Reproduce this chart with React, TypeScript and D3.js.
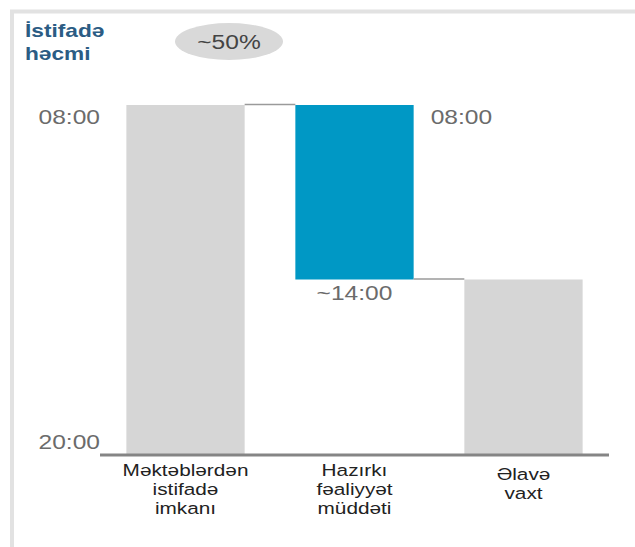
import React from "react";
import * as d3 from "d3";

const categories = ["Məktəblərdən istifadə imkanı", "Hazırkı fəaliyyət müddəti", "Əlavə vaxt"];
const categoryLines = [
  ["Məktəblərdən", "istifadə", "imkanı"],
  ["Hazırkı", "fəaliyyət", "müddəti"],
  ["Əlavə", "vaxt"],
];
const startHours = [8, 8, 14];
const endHours = [20, 14, 20];
const barColors = ["#d6d6d6", "#0098c5", "#d6d6d6"];
const tickValues = [8, 20];
const tickLabels = ["08:00", "20:00"];
const titleLines = ["İstifadə", "həcmi"];
const badgeText = "~50%";
const startLabel = "08:00";
const midLabel = "~14:00";

const W = 635;
const H = 547;
const SX = 1.26;

function SText(props: {
  x: number;
  y: number;
  anchor?: string;
  size: number;
  fill: string;
  weight?: string;
  children: React.ReactNode;
}) {
  return (
    <text
      transform={`translate(${props.x},${props.y}) scale(${SX},1)`}
      textAnchor={props.anchor || "start"}
      fontSize={props.size}
      fontWeight={props.weight || "normal"}
      fill={props.fill}
    >
      {props.children}
    </text>
  );
}

export default function App() {
  const x = d3
    .scaleBand<string>()
    .domain(categories)
    .range([100, 609])
    .paddingInner(0.3)
    .paddingOuter(0.156);
  const y = d3.scaleLinear().domain([8, 20]).range([105, 454]);
  const bw = x.bandwidth();
  const font = "'Liberation Sans', Arial, sans-serif";

  return (
    <svg
      width={W}
      height={H}
      style={{ position: "absolute", left: 0, top: 0, display: "block", background: "#fff" }}
      fontFamily={font}
    >
      {/* frame */}
      <rect x={12} y={11.5} width={700} height={600} fill="none" stroke="#e2e2e2" strokeWidth={4} />

      {/* title */}
      {titleLines.map((t, i) => (
        <SText key={t} x={25} y={37 + i * 23} size={18} weight="bold" fill="#2b5c84">
          {t}
        </SText>
      ))}

      {/* badge */}
      <ellipse cx={229} cy={41.5} rx={54} ry={18.5} fill="#d9d9d9" />
      <SText x={229} y={48.5} anchor="middle" size={19.5} fill="#444">
        {badgeText}
      </SText>

      {/* bars */}
      {categories.map((c, i) => (
        <rect
          key={c}
          x={x(c)}
          y={y(startHours[i])}
          width={bw}
          height={y(endHours[i]) - y(startHours[i])}
          fill={barColors[i]}
        />
      ))}

      {/* connectors */}
      {categories.slice(0, -1).map((c, i) => {
        const next = categories[i + 1];
        const level = i === 0 ? startHours[1] : endHours[1];
        return (
          <line
            key={"conn" + i}
            x1={(x(c) as number) + bw}
            x2={x(next) as number}
            y1={y(level) - 0.5}
            y2={y(level) - 0.5}
            stroke="#9a9a9a"
            strokeWidth={1.5}
          />
        );
      })}

      {/* axis line */}
      <line x1={100} x2={609} y1={455} y2={455} stroke="#858585" strokeWidth={3} />

      {/* y tick labels */}
      {tickValues.map((v, i) => (
        <SText key={v} x={100} y={y(v) + (i === 0 ? 19 : -5)} anchor="end" size={19.5} fill="#6b6b6b">
          {tickLabels[i]}
        </SText>
      ))}

      {/* value labels */}
      <SText x={(x(categories[1]) as number) + bw + 17} y={y(startHours[1]) + 19} size={19.5} fill="#6b6b6b">
        {startLabel}
      </SText>
      <SText x={(x(categories[1]) as number) + bw / 2} y={y(endHours[1]) + 20} anchor="middle" size={19.5} fill="#6b6b6b">
        {midLabel}
      </SText>

      {/* category labels */}
      {categories.map((c, i) => {
        const lines = categoryLines[i];
        const base = lines.length === 3 ? 476 : 480;
        return (
          <SText key={"lab" + c} x={(x(c) as number) + bw / 2} y={base} anchor="middle" size={16.5} fill="#222">
            {lines.map((l, j) => (
              <tspan key={l} x={0} y={j * 19}>
                {l}
              </tspan>
            ))}
          </SText>
        );
      })}
    </svg>
  );
}
